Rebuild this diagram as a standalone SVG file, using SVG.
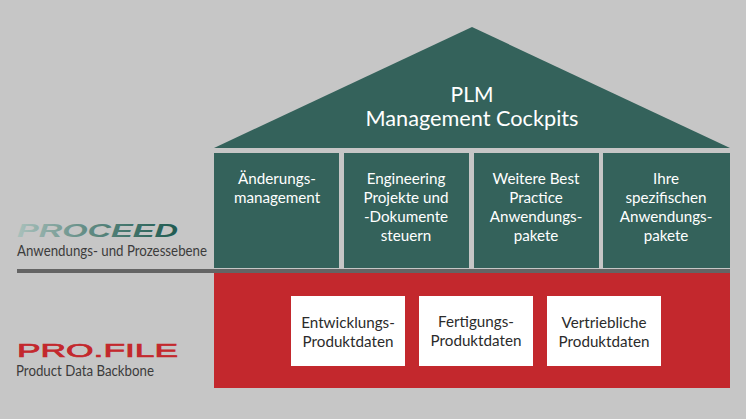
<svg xmlns="http://www.w3.org/2000/svg" width="746" height="419" viewBox="0 0 746 419">
<style>
text{font-family:"Lato","Liberation Sans",sans-serif}
.t{fill:#fff;font-size:15.2px;text-anchor:middle}
.d{fill:#2b2b2b;font-size:15.2px;text-anchor:middle}
.g{fill:#34625b}
.w{fill:#fff}
.s{fill:#3c3c3c;font-size:14.5px}
.logo{font-family:"Liberation Sans",sans-serif;font-size:19px;stroke-width:.7px}
</style>
<defs>
<linearGradient id="pg" x1="0" x2="1" y1="0" y2="0"><stop offset="0" stop-color="#a9c0bb"/><stop offset="0.45" stop-color="#5f8a82"/><stop offset="1" stop-color="#1f5a50"/></linearGradient>
</defs>
<rect width="746" height="419" fill="#c6c6c6"/>
<g id="connectors"><rect x="17" y="269" width="713" height="4" fill="#646464"/></g>
<g id="roof"><polygon class="g" points="472,27 730,148 214,148"/>
<text x="472" y="102" text-anchor="middle" fill="#fff" font-size="21">PLM</text>
<text x="472" y="126" text-anchor="middle" fill="#fff" font-size="21" textLength="213" lengthAdjust="spacingAndGlyphs">Management Cockpits</text></g>
<g id="col1"><rect class="g" x="214" y="153" width="125" height="115"/>
<text class="t" x="277" y="184">Änderungs-</text><text class="t" x="277" y="203">management</text></g>
<g id="col2"><rect class="g" x="344" y="153" width="125" height="115"/>
<text class="t" x="406" y="184">Engineering</text><text class="t" x="406" y="203">Projekte und</text><text class="t" x="406" y="222">-Dokumente</text><text class="t" x="406" y="241">steuern</text></g>
<g id="col3"><rect class="g" x="474" y="153" width="125" height="115"/>
<text class="t" x="536" y="184">Weitere Best</text><text class="t" x="536" y="203">Practice</text><text class="t" x="536" y="222">Anwendungs-</text><text class="t" x="536" y="241">pakete</text></g>
<g id="col4"><rect class="g" x="603" y="153" width="127" height="115"/>
<text class="t" x="666" y="184">Ihre</text><text class="t" x="666" y="203">spezifischen</text><text class="t" x="666" y="222">Anwendungs-</text><text class="t" x="666" y="241">pakete</text></g>
<g id="base"><rect x="214" y="273" width="516" height="115" fill="#c3282d"/></g>
<g id="box1"><rect class="w" x="291" y="296" width="114" height="70"/>
<text class="d" x="348" y="328">Entwicklungs-</text><text class="d" x="348" y="347">Produktdaten</text></g>
<g id="box2"><rect class="w" x="419" y="296" width="114" height="70"/>
<text class="d" x="476" y="327">Fertigungs-</text><text class="d" x="476" y="346">Produktdaten</text></g>
<g id="box3"><rect class="w" x="547" y="296" width="114" height="70"/>
<text class="d" x="604" y="328">Vertriebliche</text><text class="d" x="604" y="347">Produktdaten</text></g>
<g id="proceed"><text class="logo" x="17" y="237" font-style="italic" font-weight="700" fill="url(#pg)" textLength="161" lengthAdjust="spacingAndGlyphs">PROCEED</text>
<text class="s" x="17" y="256" textLength="190" lengthAdjust="spacingAndGlyphs">Anwendungs- und Prozessebene</text></g>
<g id="profile"><text class="logo" x="17" y="357" fill="#c3282d" stroke="#c3282d" textLength="161" lengthAdjust="spacingAndGlyphs">PRO.FILE</text>
<text class="s" x="16" y="376" textLength="138" lengthAdjust="spacingAndGlyphs">Product Data Backbone</text></g>
</svg>
